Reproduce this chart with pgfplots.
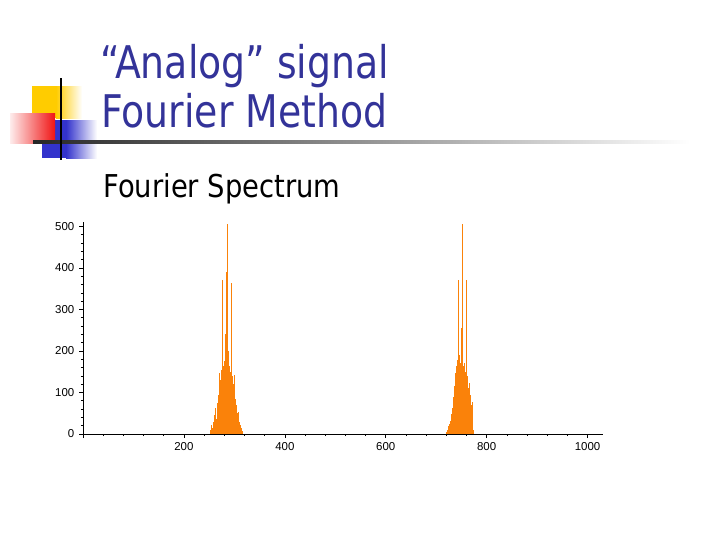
\documentclass[border=0pt]{standalone}
\usepackage{fontspec}
\usepackage{pgfplots}
\pgfplotsset{compat=1.18}
\setmainfont{DejaVu Sans}
\newfontfamily\titlefont[FakeStretch=0.84]{DejaVu Sans}
\newfontfamily\subfont[FakeStretch=0.87]{DejaVu Sans}
\newfontfamily\lsans{Liberation Sans}
\definecolor{titleblue}{RGB}{51,51,153}
\definecolor{sqyellow}{RGB}{255,204,0}
\definecolor{sqblue}{RGB}{51,51,204}
\definecolor{sqred}{RGB}{240,20,20}
\definecolor{specorange}{RGB}{250,130,10}

\pgfplotstableread{
f a
252 3
253 10
254 4
255 22
256 6
257 15
258 30
259 8
260 25
261 45
262 12
263 62
264 35
265 20
266 75
267 50
268 95
269 30
270 147
271 80
272 130
273 60
274 155
275 371
276 110
277 165
278 90
279 15
280 175
281 135
282 240
283 391
284 150
285 505
286 170
287 120
288 200
289 20
290 165
291 95
292 150
293 363
294 110
295 140
296 70
297 120
298 55
299 100
300 142
301 40
302 85
303 30
304 70
305 20
306 50
307 12
308 53
309 8
310 30
311 5
312 22
313 4
314 15
315 3
316 8
}\lowband

\pgfplotstableread{
f a
720 4
721 10
722 3
723 14
724 20
725 6
726 25
727 32
728 10
729 28
730 48
731 18
732 62
733 35
734 90
735 45
736 115
737 147
738 70
739 135
740 165
741 90
742 178
743 120
744 371
745 140
746 190
747 20
748 170
749 255
750 130
751 185
752 505
753 165
754 120
755 25
756 170
757 100
758 150
759 90
760 371
761 80
762 140
763 60
764 110
765 122
766 50
767 95
768 35
769 70
770 25
771 78
772 20
773 10
774 5
}\highband

\begin{document}
\begin{tikzpicture}
\useasboundingbox (0,0) rectangle (540pt,-405pt);
% slide decoration and titles, coordinates in pixels from the top left
\begin{scope}[x=0.75pt,y=-0.75pt]
  \fill[sqyellow] (32,86) rectangle (56,118);
  \shade[left color=sqyellow, right color=white] (56,86) rectangle (82,118);
  \fill[sqblue] (42,120) rectangle (66,158);
  \shade[left color=sqblue, right color=white] (66,120) rectangle (97,158);
  \shade[left color=sqred!8, right color=sqred] (10,113) rectangle (55,143);
  \shade[left color=black!85, right color=white] (33,140) rectangle (690,143);
  \draw[line width=1.5pt] (61,78) -- (61,160);
  \node[anchor=base west, inner sep=0, text=titleblue,
        font=\titlefont\fontsize{33.75}{40}\selectfont] at (100,78) {“Analog” signal};
  \node[anchor=base west, inner sep=0, text=titleblue,
        font=\titlefont\fontsize{33.75}{40}\selectfont] at (101,127) {Fourier Method};
  \node[anchor=base west, inner sep=0, text=black,
        font=\subfont\fontsize{23.6}{28}\selectfont] at (103,197) {Fourier Spectrum};
\end{scope}
\begin{axis}[
    at={(62.25pt,-325.5pt)}, anchor=south west,
    scale only axis,
    width=389.8pt, height=158.8pt,
    xmin=0, xmax=1030, ymin=0, ymax=510,
    axis lines=left,
    axis line style={-, line width=0.7pt},
    xtick={0,200,...,1000},
    xticklabels={,200,400,600,800,1000},
    ytick={0,100,...,500},
    yticklabels={0,100,200,300,400,500},
    minor x tick num=4,
    minor y tick num=4,
    tick align=outside,
    major tick length=3pt,
    minor tick length=1.6pt,
    tick style={black, line width=0.5pt},
    ticklabel style={font=\lsans\fontsize{8.6}{9}\selectfont},
    /pgf/number format/assume math mode=true,
    clip=false,
]
\addplot[ycomb, mark=none, color=specorange, line width=0.32pt] table[x=f, y=a] {\lowband};
\addplot[ycomb, mark=none, color=specorange, line width=0.32pt] table[x=f, y=a] {\highband};
\end{axis}
\end{tikzpicture}
\end{document}
